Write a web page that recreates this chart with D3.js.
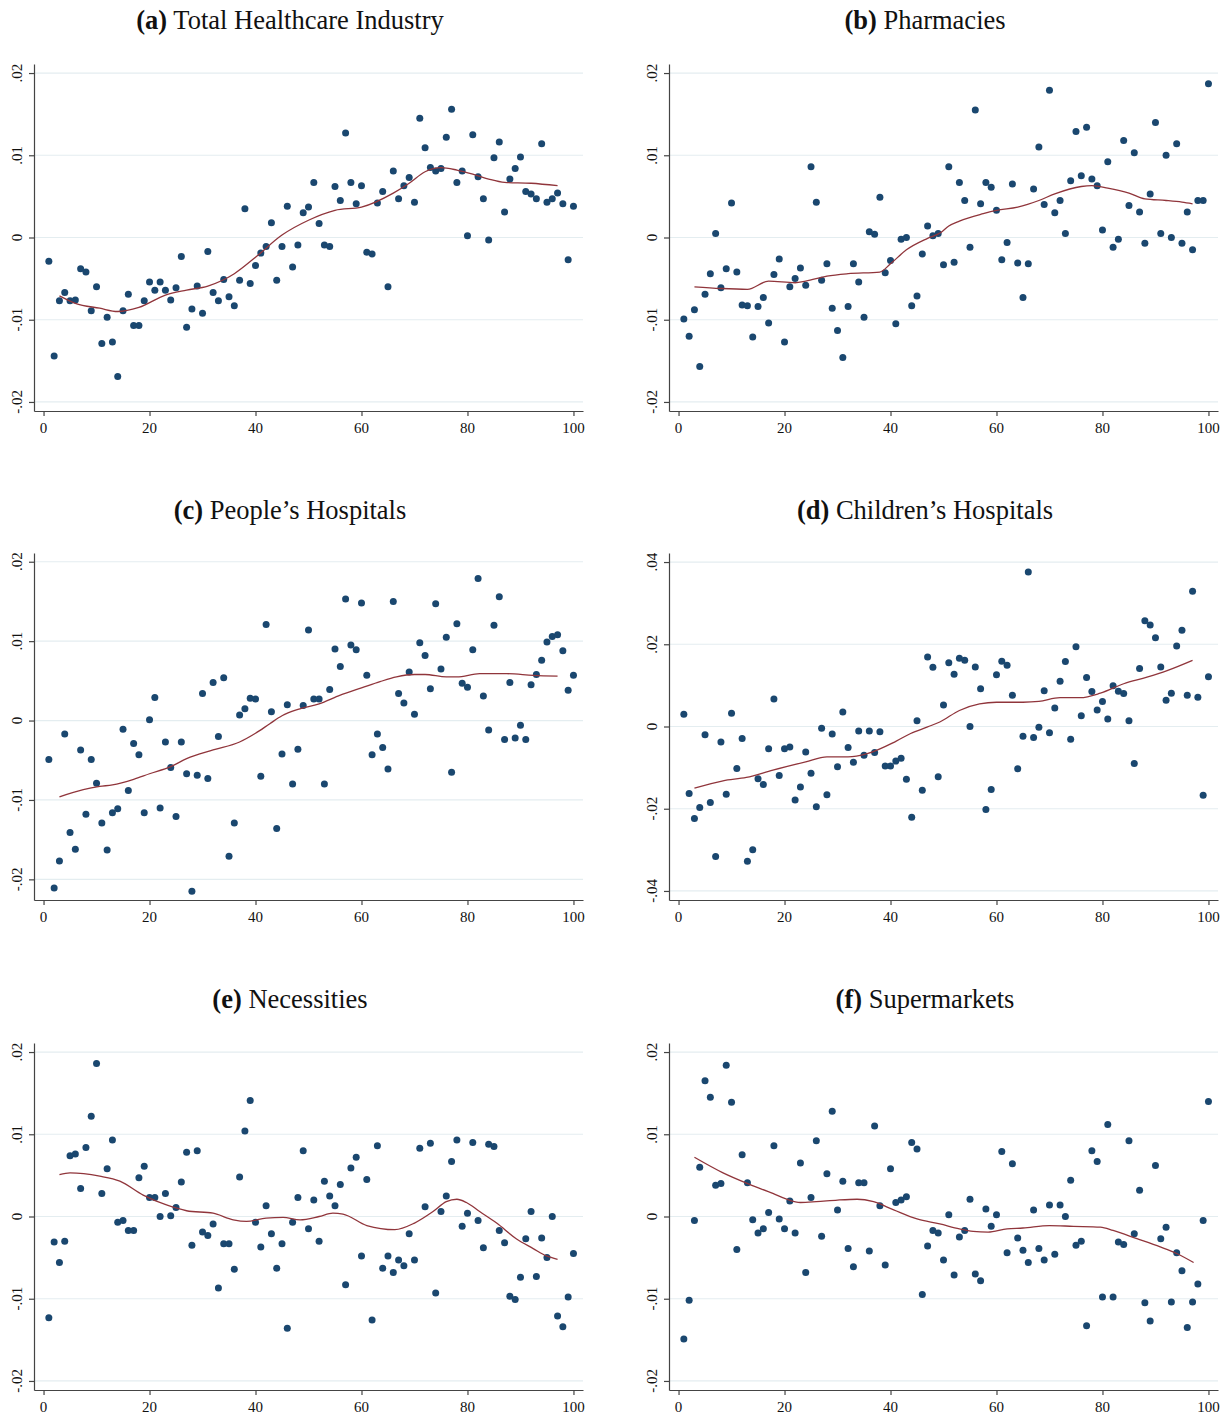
<!DOCTYPE html>
<html>
<head>
<meta charset="utf-8">
<script src="https://cdn.jsdelivr.net/npm/d3@7"></script>
<style>
  body { margin: 0; background: #fff; }
  svg text { font-family: "Liberation Serif", "Times New Roman", serif; fill: #111; }
</style>
</head>
<body>
<div id="chart"></div>
<script>
// percentile bins on the x axis
const bins = [1,2,3,4,5,6,7,8,9,10,11,12,13,14,15,16,17,18,19,20,21,22,23,24,25,26,27,28,29,30,31,32,33,34,35,36,37,38,39,40,41,42,43,44,45,46,47,48,49,50,51,52,53,54,55,56,57,58,59,60,61,62,63,64,65,66,67,68,69,70,71,72,73,74,75,76,77,78,79,80,81,82,83,84,85,86,87,88,89,90,91,92,93,94,95,96,97,98,99,100];
const xTicks = [0, 20, 40, 60, 80, 100];

// (a) Total Healthcare Industry
const healthcare = [-0.0029,-0.0144,-0.0077,-0.0067,-0.0077,-0.0076,-0.0038,-0.0042,-0.0089,-0.0060,-0.0129,-0.0097,-0.0127,-0.0169,-0.0089,-0.0069,-0.0107,-0.0107,-0.0077,-0.0054,-0.0064,-0.0054,-0.0064,-0.0076,-0.0061,-0.0023,-0.0109,-0.0087,-0.0059,-0.0092,-0.0017,-0.0067,-0.0077,-0.0051,-0.0072,-0.0083,-0.0052,0.0035,-0.0056,-0.0034,-0.0019,-0.0011,0.0018,-0.0052,-0.0011,0.0038,-0.0036,-0.0009,0.0030,0.0037,0.0067,0.0017,-0.0009,-0.0011,0.0062,0.0045,0.0127,0.0067,0.0041,0.0063,-0.0018,-0.0020,0.0042,0.0056,-0.0060,0.0081,0.0047,0.0063,0.0073,0.0043,0.0145,0.0109,0.0085,0.0081,0.0084,0.0122,0.0156,0.0067,0.0081,0.0002,0.0125,0.0074,0.0047,-0.0003,0.0097,0.0116,0.0031,0.0071,0.0084,0.0098,0.0056,0.0053,0.0047,0.0114,0.0043,0.0047,0.0054,0.0041,-0.0027,0.0038];
const healthcareFit = [[3,-0.0071],[6,-0.0080],[10.6,-0.0086],[14,-0.0090],[18,-0.0085],[23,-0.0070],[27,-0.0064],[31,-0.0059],[36,-0.0044],[40,-0.0024],[45,0.0003],[50,0.0021],[55,0.0033],[60,0.0037],[66,0.0054],[69,0.0066],[72,0.0080],[75,0.0085],[78,0.0082],[81,0.0077],[84,0.0071],[87,0.0067],[92,0.0066],[97,0.0063]];

// (b) Pharmacies
const pharmacies = [-0.0099,-0.0120,-0.0088,-0.0157,-0.0069,-0.0044,0.0005,-0.0061,-0.0038,0.0042,-0.0042,-0.0082,-0.0083,-0.0121,-0.0084,-0.0073,-0.0104,-0.0045,-0.0026,-0.0127,-0.0060,-0.0050,-0.0037,-0.0058,0.0086,0.0043,-0.0052,-0.0032,-0.0086,-0.0113,-0.0146,-0.0084,-0.0032,-0.0054,-0.0097,0.0007,0.0004,0.0049,-0.0043,-0.0028,-0.0105,-0.0002,0.0000,-0.0083,-0.0071,-0.0020,0.0014,0.0002,0.0005,-0.0033,0.0086,-0.0030,0.0067,0.0045,-0.0012,0.0155,0.0041,0.0067,0.0061,0.0033,-0.0027,-0.0006,0.0065,-0.0031,-0.0073,-0.0032,0.0059,0.0110,0.0040,0.0179,0.0030,0.0045,0.0005,0.0069,0.0129,0.0075,0.0134,0.0071,0.0063,0.0009,0.0092,-0.0012,-0.0002,0.0118,0.0039,0.0103,0.0031,-0.0007,0.0053,0.0140,0.0005,0.0100,0.0000,0.0114,-0.0007,0.0031,-0.0015,0.0045,0.0045,0.0187];
const pharmaciesFit = [[3,-0.0060],[8,-0.0062],[13,-0.0063],[17,-0.0053],[22,-0.0055],[24,-0.0053],[28,-0.0047],[32,-0.0044],[38,-0.0042],[40,-0.0032],[43,-0.0015],[47,-0.0001],[49.5,0.0006],[51,0.0014],[53,0.0020],[57.5,0.0029],[60,0.0033],[64,0.0037],[68,0.0045],[71,0.0053],[76,0.0062],[78,0.0063],[81,0.0060],[85,0.0054],[88,0.0047],[92,0.0045],[95,0.0043],[97,0.0041]];

// (c) People's Hospitals
const peoples = [-0.0049,-0.0211,-0.0177,-0.0017,-0.0141,-0.0162,-0.0037,-0.0118,-0.0049,-0.0079,-0.0129,-0.0163,-0.0116,-0.0111,-0.0011,-0.0088,-0.0029,-0.0043,-0.0116,0.0001,0.0029,-0.0110,-0.0027,-0.0059,-0.0121,-0.0027,-0.0067,-0.0215,-0.0069,0.0034,-0.0073,0.0048,-0.0020,0.0054,-0.0171,-0.0129,0.0007,0.0015,0.0028,0.0027,-0.0070,0.0121,0.0011,-0.0136,-0.0042,0.0020,-0.0080,-0.0036,0.0019,0.0114,0.0027,0.0027,-0.0080,0.0039,0.0090,0.0068,0.0153,0.0095,0.0089,0.0148,0.0057,-0.0043,-0.0017,-0.0034,-0.0061,0.0150,0.0034,0.0022,0.0061,0.0008,0.0098,0.0082,0.0040,0.0147,0.0065,0.0105,-0.0065,0.0122,0.0047,0.0042,0.0089,0.0179,0.0031,-0.0012,0.0120,0.0156,-0.0024,0.0048,-0.0022,-0.0006,-0.0024,0.0045,0.0058,0.0076,0.0099,0.0106,0.0108,0.0088,0.0038,0.0057];
const peoplesFit = [[3,-0.0096],[7.5,-0.0087],[10.6,-0.0083],[13,-0.0081],[17,-0.0074],[20,-0.0067],[24,-0.0058],[27,-0.0048],[32,-0.0037],[37,-0.0027],[40,-0.0016],[42.7,-0.0004],[45,0.0006],[48,0.0014],[52,0.0021],[56,0.0032],[60,0.0041],[63.5,0.0049],[66.6,0.0055],[70,0.0058],[72,0.0058],[76,0.0055],[78,0.0055],[82.3,0.0059],[87.4,0.0059],[92.4,0.0057],[97,0.0056]];

// (d) Children's Hospitals
const childrens = [0.0030,-0.0163,-0.0224,-0.0197,-0.0020,-0.0185,-0.0316,-0.0038,-0.0165,0.0032,-0.0102,-0.0029,-0.0328,-0.0300,-0.0127,-0.0141,-0.0054,0.0067,-0.0119,-0.0054,-0.0050,-0.0179,-0.0147,-0.0062,-0.0114,-0.0195,-0.0004,-0.0166,-0.0018,-0.0098,0.0035,-0.0051,-0.0087,-0.0011,-0.0070,-0.0011,-0.0063,-0.0013,-0.0096,-0.0096,-0.0084,-0.0077,-0.0128,-0.0221,0.0014,-0.0155,0.0169,0.0144,-0.0122,0.0052,0.0155,0.0127,0.0166,0.0161,0.0000,0.0145,0.0092,-0.0202,-0.0153,0.0126,0.0159,0.0149,0.0076,-0.0103,-0.0024,0.0376,-0.0027,-0.0002,0.0087,-0.0015,0.0045,0.0110,0.0158,-0.0031,0.0194,0.0026,0.0119,0.0085,0.0040,0.0061,0.0018,0.0099,0.0086,0.0080,0.0014,-0.0090,0.0141,0.0257,0.0247,0.0216,0.0145,0.0064,0.0081,0.0196,0.0234,0.0076,0.0329,0.0071,-0.0167,0.0121];
const childrensFit = [[3,-0.0150],[8.4,-0.0132],[12.8,-0.0124],[17.8,-0.0106],[24,-0.0086],[28,-0.0074],[32,-0.0074],[35.6,-0.0066],[41,-0.0036],[43.8,-0.0017],[47,-0.0001],[49.3,0.0011],[53,0.0039],[56.8,0.0055],[60,0.0059],[65,0.0059],[68,0.0061],[72,0.0070],[75.8,0.0070],[79.6,0.0081],[84,0.0104],[88.4,0.0120],[92.2,0.0136],[97,0.0161]];

// (e) Necessities
const necessities = [-0.0123,-0.0031,-0.0056,-0.0030,0.0074,0.0076,0.0034,0.0084,0.0122,0.0186,0.0028,0.0058,0.0093,-0.0007,-0.0005,-0.0017,-0.0017,0.0047,0.0061,0.0023,0.0023,0.0000,0.0028,0.0001,0.0011,0.0042,0.0078,-0.0035,0.0080,-0.0019,-0.0023,-0.0009,-0.0087,-0.0033,-0.0033,-0.0064,0.0048,0.0104,0.0141,-0.0007,-0.0037,0.0013,-0.0021,-0.0063,-0.0033,-0.0136,-0.0007,0.0023,0.0080,-0.0015,0.0020,-0.0030,0.0043,0.0025,0.0013,0.0039,-0.0083,0.0059,0.0072,-0.0048,0.0045,-0.0126,0.0086,-0.0063,-0.0048,-0.0068,-0.0053,-0.0060,-0.0021,-0.0053,0.0083,0.0012,0.0089,-0.0093,0.0006,0.0025,0.0067,0.0093,-0.0012,0.0004,0.0090,-0.0005,-0.0038,0.0088,0.0085,-0.0017,-0.0032,-0.0097,-0.0101,-0.0074,-0.0027,0.0006,-0.0073,-0.0026,-0.0050,0.0000,-0.0121,-0.0134,-0.0098,-0.0045];
const necessitiesFit = [[3,0.0051],[5,0.0053],[10.6,0.0049],[14.4,0.0043],[18.8,0.0026],[23.2,0.0014],[27,0.0007],[32,0.0004],[35.8,-0.0004],[38.3,-0.0006],[42,-0.0002],[45.2,-0.0001],[48.4,-0.0004],[52,0.0000],[54.6,0.0004],[56.5,0.0003],[61,-0.0011],[66.3,-0.0016],[70,-0.0008],[73.5,0.0006],[76,0.0018],[78,0.0021],[79.8,0.0017],[82.3,0.0006],[85.5,-0.0008],[89.2,-0.0027],[92.4,-0.0039],[94.9,-0.0048],[97,-0.0052]];

// (f) Supermarkets
const supermarkets = [-0.0149,-0.0102,-0.0005,0.0060,0.0165,0.0145,0.0038,0.0040,0.0184,0.0139,-0.0040,0.0075,0.0041,-0.0004,-0.0020,-0.0015,0.0005,0.0086,-0.0003,-0.0015,0.0019,-0.0020,0.0065,-0.0068,0.0023,0.0092,-0.0024,0.0052,0.0128,0.0008,0.0043,-0.0039,-0.0061,0.0041,0.0041,-0.0042,0.0110,0.0013,-0.0059,0.0058,0.0017,0.0020,0.0024,0.0090,0.0082,-0.0095,-0.0036,-0.0017,-0.0020,-0.0053,0.0002,-0.0071,-0.0025,-0.0017,0.0021,-0.0070,-0.0078,0.0009,-0.0012,0.0002,0.0079,-0.0044,0.0064,-0.0026,-0.0041,-0.0056,0.0008,-0.0039,-0.0053,0.0014,-0.0046,0.0014,0.0000,0.0044,-0.0035,-0.0030,-0.0133,0.0080,0.0067,-0.0098,0.0112,-0.0098,-0.0031,-0.0034,0.0092,-0.0021,0.0032,-0.0105,-0.0127,0.0062,-0.0027,-0.0013,-0.0104,-0.0044,-0.0066,-0.0135,-0.0104,-0.0082,-0.0005,0.0140];
const supermarketsFit = [[3,0.0072],[8.4,0.0053],[13.4,0.0039],[17.8,0.0028],[20.4,0.0021],[23,0.0017],[26,0.0018],[30,0.0020],[33.7,0.0021],[36.8,0.0018],[40.6,0.0008],[45,-0.0003],[49.3,-0.0009],[53,-0.0015],[55.6,-0.0018],[58.4,-0.0019],[62,-0.0015],[65,-0.0014],[70,-0.0011],[74.5,-0.0012],[79.6,-0.0013],[82,-0.0017],[86.5,-0.0027],[90.9,-0.0037],[94,-0.0045],[97.2,-0.0056]];

// y ticks
const ticks02 = [-0.02, -0.01, 0, 0.01, 0.02];
const labels02 = ["-.02", "-.01", "0", ".01", ".02"];
const ticks04 = [-0.04, -0.02, 0, 0.02, 0.04];
const labels04 = ["-.04", "-.02", "0", ".02", ".04"];

const panels = [
  {tag: "a", title: "Total Healthcare Industry", values: healthcare, fit: healthcareFit, ticks: ticks02, labels: labels02, yDom: [-0.0211, 0.0211], col: 0, row: 0},
  {tag: "b", title: "Pharmacies", values: pharmacies, fit: pharmaciesFit, ticks: ticks02, labels: labels02, yDom: [-0.0211, 0.0211], col: 1, row: 0},
  {tag: "c", title: "People\u2019s Hospitals", values: peoples, fit: peoplesFit, ticks: ticks02, labels: labels02, yDom: [-0.0226, 0.0211], col: 0, row: 1},
  {tag: "d", title: "Children\u2019s Hospitals", values: childrens, fit: childrensFit, ticks: ticks04, labels: labels04, yDom: [-0.0422, 0.0422], col: 1, row: 1},
  {tag: "e", title: "Necessities", values: necessities, fit: necessitiesFit, ticks: ticks02, labels: labels02, yDom: [-0.0211, 0.0211], col: 0, row: 2},
  {tag: "f", title: "Supermarkets", values: supermarkets, fit: supermarketsFit, ticks: ticks02, labels: labels02, yDom: [-0.0211, 0.0211], col: 1, row: 2}
];

const W = 1230, H = 1414;
const colLeft = [34, 669];
const rowTop = [64, 553, 1043];
const titleX = [290, 925];
const titleY = [29, 519, 1008];
const plotW = 549, plotH = 347;

const svg = d3.select("#chart").append("svg")
    .attr("width", W)
    .attr("height", H);

const x = d3.scaleLinear().domain([-1.8, 101.8]).range([0, plotW]);

panels.forEach(p => {
    const g = svg.append("g")
        .attr("transform", "translate(" + colLeft[p.col] + "," + rowTop[p.row] + ")");
    const y = d3.scaleLinear().domain(p.yDom).range([plotH, 0]);

    // title
    const t = svg.append("text")
        .attr("x", titleX[p.col])
        .attr("y", titleY[p.row])
        .attr("text-anchor", "middle")
        .style("font-size", "26.5px");
    t.append("tspan").attr("font-weight", "bold").text("(" + p.tag + ")");
    t.append("tspan").text(" " + p.title);

    // grid
    g.selectAll(".grid").data(p.ticks).enter().append("line")
        .attr("x1", 0).attr("x2", plotW)
        .attr("y1", d => y(d)).attr("y2", d => y(d))
        .attr("stroke", "#e4edf0").attr("stroke-width", 1.2);

    // axes
    const yAxis = g.append("g")
        .call(d3.axisLeft(y).tickValues(p.ticks).tickSize(5).tickSizeOuter(0).tickFormat(""));
    const xAxis = g.append("g")
        .attr("transform", "translate(0," + plotH + ")")
        .call(d3.axisBottom(x).tickValues(xTicks).tickSize(5).tickSizeOuter(0).tickFormat(""));
    [yAxis, xAxis].forEach(a => {
        a.select(".domain").attr("stroke", "#444").attr("stroke-width", 1.2);
        a.selectAll(".tick line").attr("stroke", "#444").attr("stroke-width", 1.2);
    });

    // y tick labels, rotated like Stata
    g.selectAll(".ylab").data(p.ticks).enter().append("text")
        .attr("transform", (d, i) => "translate(-12," + y(d) + ") rotate(-90)")
        .attr("text-anchor", "middle")
        .style("font-size", "15px")
        .text((d, i) => p.labels[i]);

    // x tick labels
    g.selectAll(".xlab").data(xTicks).enter().append("text")
        .attr("x", d => x(d))
        .attr("y", plotH + 22)
        .attr("text-anchor", "middle")
        .style("font-size", "15px")
        .text(d => d);

    // scatter
    g.selectAll(".dot").data(p.values).enter().append("circle")
        .attr("cx", (d, i) => x(bins[i]))
        .attr("cy", d => y(d))
        .attr("r", 3.5)
        .attr("fill", "#1a476f");

    // smoothed line
    const line = d3.line()
        .x(d => x(d[0]))
        .y(d => y(d[1]))
        .curve(d3.curveMonotoneX);
    g.append("path")
        .datum(p.fit)
        .attr("d", line)
        .attr("fill", "none")
        .attr("stroke", "#90353b")
        .attr("stroke-width", 1.3);
});
</script>
</body>
</html>
